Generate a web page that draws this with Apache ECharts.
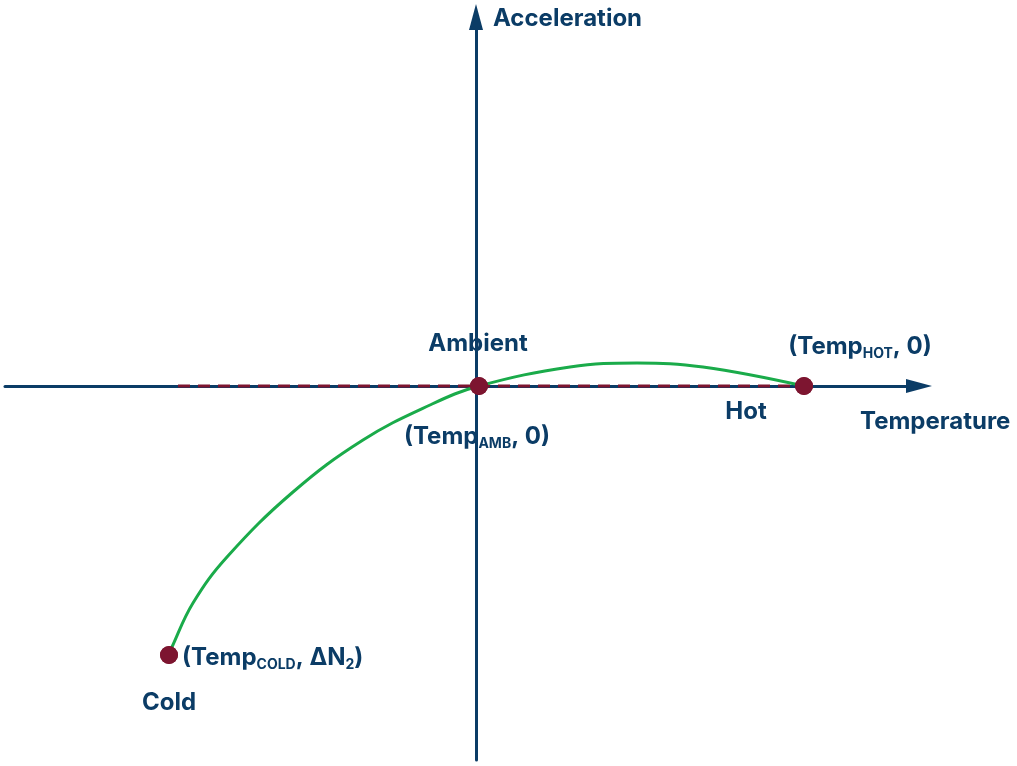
<!DOCTYPE html>
<html>
<head>
<meta charset="utf-8">
<script src="https://cdn.jsdelivr.net/npm/echarts@6/dist/echarts.min.js"></script>
<style>
  html, body { margin: 0; padding: 0; background: #fff; }
  #chart { width: 1017px; height: 766px; }
</style>
</head>
<body>
<div id="chart"></div>
<script>
// axis extents, origin = ambient temperature / zero acceleration
var xRange = [-471, 443]
var yRange = [-374, 369]

// the three marked points: cold, ambient, hot
var pointNames = ['Cold', 'Ambient', 'Hot']
var pointX = [-307, 3, 328]
var pointY = [-269, 0, 0]
var pointLabels = ['(Temp{sub|COLD}, ΔN{sub|2})', '(Temp{sub|AMB}, 0)', '(Temp{sub|HOT}, 0)']

// green curve
var curveX = [-307, -304, -283, -249, -183, -113, -46, 3, 94, 161, 227, 328]
var curveY = [-269, -261, -217, -171, -106, -54, -19, 0, 19, 23, 19, 0]

// dashed line along the temperature axis
var dashX = [-298, 328]
var dashY = [0, 0]

var navy = '#0b3c66'
var red = '#7d1530'
var green = '#1aab4a'
var font = 'Inter'

var rich = {
  sub: { fontFamily: font, fontWeight: 'bold', fontSize: 14, lineHeight: 12, verticalAlign: 'bottom', color: navy }
}
var textBase = { fontFamily: font, fontWeight: 'bold', fontSize: 24, lineHeight: 28, color: navy }

// label placement around each point
var coordLayout = [
  { position: 'right', distance: 4, offset: [0, 3] },
  { position: 'bottom', distance: 28, offset: [-2, 0] },
  { position: 'top', distance: 16, offset: [56, 0] }
]
var nameLayout = [
  { position: 'bottom', distance: 25, offset: [0, 0] },
  { position: 'top', distance: 19, offset: [-1, 0] },
  { position: 'bottom', distance: 3, offset: [-58, 0] }
]

var coordData = pointX.map(function (x, i) {
  return {
    value: [x, pointY[i]],
    label: Object.assign({ show: true, formatter: pointLabels[i], rich: rich }, textBase, coordLayout[i])
  }
})
var nameData = pointX.map(function (x, i) {
  return {
    value: [x, pointY[i]],
    label: Object.assign({ show: true, formatter: pointNames[i] }, textBase, nameLayout[i])
  }
})

function axis(min, max, name, nameStyle, nameGap) {
  return {
    type: 'value',
    min: min,
    max: max,
    name: name,
    nameLocation: 'end',
    nameGap: nameGap,
    nameTextStyle: Object.assign({}, textBase, nameStyle),
    axisLine: {
      show: true,
      onZero: true,
      symbol: ['none', 'triangle'],
      symbolSize: [14, 26],
      lineStyle: { color: navy, width: 3 }
    },
    axisTick: { show: false },
    axisLabel: { show: false },
    splitLine: { show: false }
  }
}

var option = {
  animation: false,
  grid: { left: 5, right: 98, top: 17, bottom: 6, outerBoundsMode: 'none' },
  // lineHeight pushes the name below the axis line
  xAxis: axis(xRange[0], xRange[1], 'Temperature',
    { align: 'left', verticalAlign: 'top', lineHeight: 71 }, -59),
  yAxis: axis(yRange[0], yRange[1], 'Acceleration',
    { align: 'left', verticalAlign: 'middle', padding: [0, 0, 0, 17] }, -2),
  series: [
    {
      type: 'line',
      data: dashX.map(function (x, i) { return [x, dashY[i]] }),
      symbol: 'none',
      lineStyle: { color: red, width: 3, type: [12, 8] },
      silent: true,
      z: 2
    },
    {
      type: 'line',
      data: curveX.map(function (x, i) { return [x, curveY[i]] }),
      smooth: 0.4,
      symbol: 'none',
      lineStyle: { color: green, width: 3 },
      silent: true,
      z: 3
    },
    {
      type: 'scatter',
      data: coordData,
      symbolSize: 18,
      itemStyle: { color: red, opacity: 1 },
      silent: true,
      z: 4
    },
    {
      type: 'scatter',
      data: nameData,
      symbolSize: 18,
      itemStyle: { color: red, opacity: 1 },
      silent: true,
      z: 4
    }
  ]
}

var chart = echarts.init(document.getElementById('chart'))
chart.setOption(option)
</script>
</body>
</html>
